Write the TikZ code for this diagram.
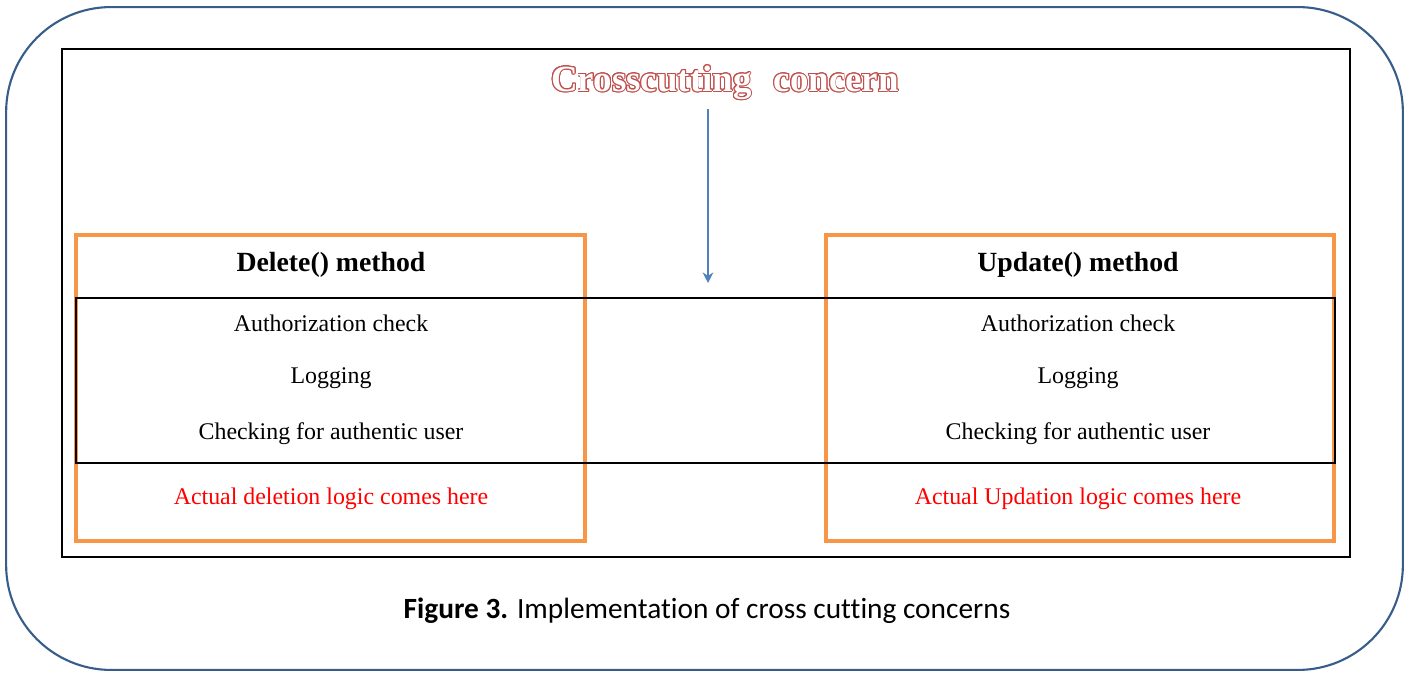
\documentclass[tikz,border=0pt]{standalone}
\usepackage{fontspec}
\setmainfont{Liberation Serif}
\newfontfamily\capfont[Ligatures=NoCommon]{Carlito}
\usepackage{tikz}
\usetikzlibrary{arrows.meta,positioning}
\usepackage{xcolor}
\usepackage{contour}
\contourlength{0.55pt}
\definecolor{framebl}{HTML}{385D8A}
\definecolor{ccred}{HTML}{C0504D}
\definecolor{boxorange}{HTML}{F79646}
\definecolor{arrblue}{HTML}{4F81BD}
\newcommand{\outlined}[1]{\contour{ccred}{\textcolor{white}{#1}}}

\begin{document}
\begin{tikzpicture}[
  x=0.02cm, y=-0.02cm,
  frame/.style={draw=framebl, line width=1.2pt, rounded corners=2.1cm,
                minimum width=27.94cm, minimum height=13.26cm},
  panel/.style={draw=black, line width=1.3pt,
                minimum width=25.76cm, minimum height=10.16cm},
  methodbox/.style={draw=boxorange, line width=2.3pt,
                minimum width=10.18cm, minimum height=6.12cm},
  band/.style={draw=black, line width=0.9pt,
                minimum width=25.18cm, minimum height=3.3cm},
  head/.style={font=\fontsize{15.8}{18}\selectfont\bfseries},
  item/.style={font=\fontsize{13.6}{16}\selectfont},
  actual/.style={item, text=red},
  arr/.style={-{Stealth[length=6pt, width=6pt]}, draw=arrblue, line width=1.1pt}
]
  \useasboundingbox (0,0) rectangle (1409,675);

  % --- Frames ---
  \node[frame] (outer) at (704.5,338.5) {};
  \node[panel] (panel) at (706,303) {};

  % --- Two method boxes and the shared band ---
  \node[methodbox] (delbox) at (330.5,388) {};
  \node[methodbox] (updbox) at (1080,388) {};
  \node[band] (band) at (705.5,380.5) {};

  % --- Crosscutting concern from above ---
  \node[font=\fontsize{21}{24}\selectfont\bfseries] (cc) at (725,83)
       {\outlined{Crosscutting}\hspace{0.6em}\outlined{concern}};
  \coordinate (tip) at (708,283);
  \draw[arr] ([yshift=-0.05cm]cc.south -| tip) -- (tip);

  % --- Delete() method ---
  \node[head] (delhead) at (331,265) {Delete() method};
  \node[item] (delauth) at (331,323) {Authorization check};
  \node[item] (dellog)  at (331,378) {Logging};
  \node[item] (deluser) at (331,434) {Checking for authentic user};
  \node[actual] (dellogic) at (331,499) {Actual deletion logic comes here};

  % --- Update() method ---
  \node[head] (updhead) at (1078,265) {Update() method};
  \node[item] (updauth) at (1078,323) {Authorization check};
  \node[item] (updlog)  at (1078,378) {Logging};
  \node[item] (upduser) at (1078,434) {Checking for authentic user};
  \node[actual] (updlogic) at (1078,499) {Actual Updation logic comes here};

  % --- Caption ---
  \node[font=\capfont\fontsize{16.7}{19}\selectfont] (caption) at (707,611)
       {\textbf{Figure 3.} Implementation of cross cutting concerns};
\end{tikzpicture}
\end{document}
